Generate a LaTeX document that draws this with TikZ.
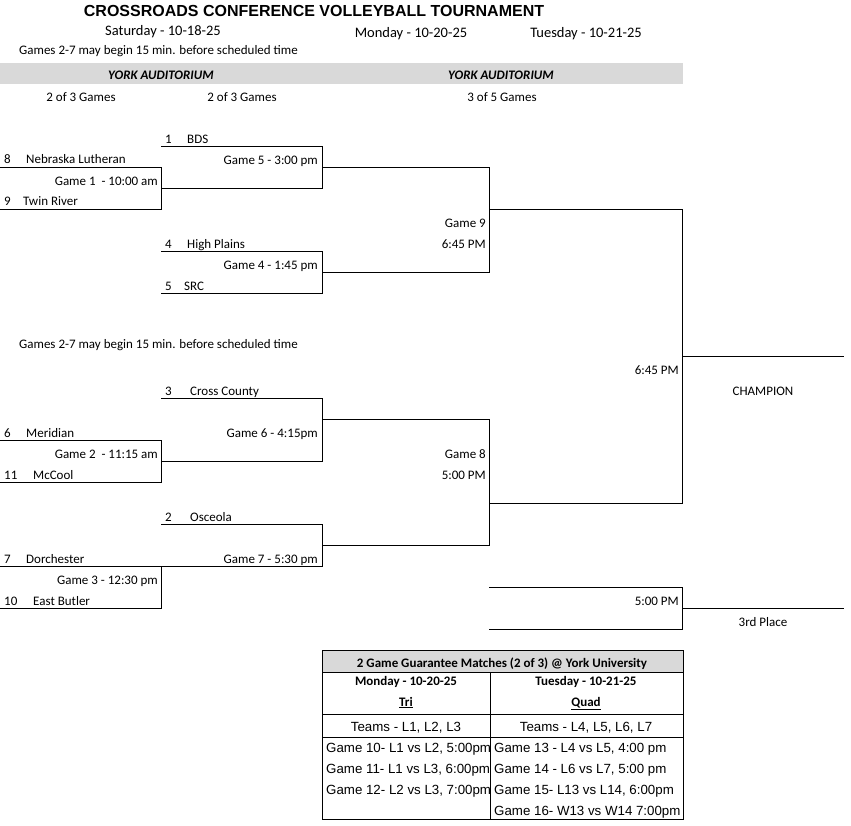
\documentclass[tikz,border=0pt]{standalone}
\usepackage{fontspec}
\setmainfont{Carlito}
\newfontfamily\arialf{Liberation Sans}
\begin{document}
\begin{tikzpicture}[x=1pt,y=-1pt,
  br/.style={line width=0.8pt},
  t/.style={inner sep=0pt,anchor=base west,font=\fontsize{13}{15}\selectfont},
  tr/.style={t,anchor=base east},
  tc/.style={t,anchor=base},
  hb/.style={tc,font=\bfseries\fontsize{13}{15}\selectfont},
  ta/.style={inner sep=0pt,anchor=base west,font=\arialf\fontsize{13.3}{15}\selectfont}]
\useasboundingbox[fill=white] (0,0) rectangle (851,825);
\fill[gray!30] (0,63) rectangle (683,84);
\node[inner sep=0pt,anchor=base,font=\arialf\bfseries\fontsize{16}{18}\selectfont] (title) at (314,16) {CROSSROADS CONFERENCE VOLLEYBALL TOURNAMENT};
\node[tc,font=\fontsize{14.5}{16}\selectfont] (d1) at (163,35) {Saturday - 10-18-25};
\node[tc,font=\fontsize{14.5}{16}\selectfont] (d2) at (411,37) {Monday - 10-20-25};
\node[tc,font=\fontsize{14.5}{16}\selectfont] (d3) at (586,37) {Tuesday - 10-21-25};
\node[t] (n1) at (19,54) {Games 2-7 may begin 15 min. before scheduled time};
\node[tc,font=\bfseries\itshape\fontsize{13}{15}\selectfont] (y1) at (161,79) {YORK AUDITORIUM};
\node[tc,font=\bfseries\itshape\fontsize{13}{15}\selectfont] (y2) at (501,79) {YORK AUDITORIUM};
\node[tc] (g1) at (81,101) {2 of 3 Games};
\node[tc] (g2) at (242,101) {2 of 3 Games};
\node[tc] (g3) at (502,101) {3 of 5 Games};
% brackets
\draw[br] (0,167) -- (161,167) -- (161,209) -- (0,209);
\draw[br] (161,146) -- (322,146) -- (322,188) -- (161,188);
\draw[br] (161,251) -- (322,251) -- (322,293) -- (161,293);
\draw[br] (322,167) -- (489,167) -- (489,272) -- (322,272);
\draw[br] (161,398) -- (322,398) -- (322,461) -- (161,461);
\draw[br] (0,440) -- (161,440) -- (161,482) -- (0,482);
\draw[br] (161,524) -- (322,524) -- (322,566) -- (161,566);
\draw[br] (0,566) -- (161,566) -- (161,608) -- (0,608);
\draw[br] (322,419) -- (489,419) -- (489,545) -- (322,545);
\draw[br] (489,209) -- (682,209) -- (682,503) -- (489,503);
\draw[br] (682,356) -- (844,356);
\draw[br] (489,587) -- (682,587) -- (682,629) -- (489,629);
\draw[br] (682,608) -- (844,608);
% teams
\node[t] (s1) at (165,143) {1}; \node[t] (s1n) at (187,143) {BDS};
\node[t] (s8) at (4,163) {8}; \node[t] (s8n) at (26,163) {Nebraska Lutheran};
\node[t] (s9) at (4,205) {9}; \node[t] (s9n) at (23,205) {Twin River};
\node[t] (s4) at (165,248) {4}; \node[t] (s4n) at (187,248) {High Plains};
\node[t] (s5) at (165,290) {5}; \node[t] (s5n) at (184,290) {SRC};
\node[t] (n2) at (19,348) {Games 2-7 may begin 15 min. before scheduled time};
\node[t] (s3) at (165,395) {3}; \node[t] (s3n) at (190,395) {Cross County};
\node[t] (s6) at (4,437) {6}; \node[t] (s6n) at (26,437) {Meridian};
\node[t] (s11) at (4,479) {11}; \node[t] (s11n) at (33,479) {McCool};
\node[t] (s2) at (165,521) {2}; \node[t] (s2n) at (190,521) {Osceola};
\node[t] (s7) at (4,563) {7}; \node[t] (s7n) at (26,563) {Dorchester};
\node[t] (s10) at (4,605) {10}; \node[t] (s10n) at (33,605) {East Butler};
% game labels
\node[tr] (G1) at (158,185) {Game 1\ \ - 10:00 am};
\node[tr] (G5) at (318,164) {Game 5 - 3:00 pm};
\node[tr] (G4) at (318,269) {Game 4 - 1:45 pm};
\node[tr] (G9a) at (486,227) {Game 9};
\node[tr] (G9b) at (486,248) {6:45 PM};
\node[tr] (G6) at (318,437) {Game 6 - 4:15pm};
\node[tr] (G2) at (158,458) {Game 2\ \ - 11:15 am};
\node[tr] (G8a) at (486,458) {Game 8};
\node[tr] (G8b) at (486,479) {5:00 PM};
\node[tr] (G7) at (318,563) {Game 7 - 5:30 pm};
\node[tr] (G3) at (158,584) {Game 3 - 12:30 pm};
\node[tr] (F) at (679,374) {6:45 PM};
\node[tc] (ch) at (763,395) {CHAMPION};
\node[tr] (T3) at (679,605) {5:00 PM};
\node[tc] (th) at (763,626) {3rd Place};
% table
\fill[gray!30] (322,650) rectangle (683,672);
\draw[line width=0.8pt] (322,650) rectangle (683,819);
\draw[line width=0.8pt] (322,672) -- (683,672);
\draw[line width=0.8pt] (490,672) -- (490,819);
\draw[line width=0.8pt] (322,714) -- (683,714);
\draw[line width=0.8pt] (322,737) -- (683,737);
\node[hb] (th1) at (502,667) {2 Game Guarantee Matches (2 of 3) @ York University};
\node[hb] (m1) at (406,685) {Monday - 10-20-25};
\node[hb] (m2) at (586,685) {Tuesday - 10-21-25};
\node[hb] (m3) at (406,706) {\underline{Tri}};
\node[hb] (m4) at (586,706) {\underline{Quad}};
\node[ta,anchor=base] (tm1) at (406,731) {Teams - L1, L2, L3};
\node[ta,anchor=base] (tm2) at (586,731) {Teams - L4, L5, L6, L7};
\node[ta] (a1) at (326,752) {Game 10- L1 vs L2, 5:00pm};
\node[ta] (a2) at (326,773) {Game 11- L1 vs L3, 6:00pm};
\node[ta] (a3) at (326,794) {Game 12- L2 vs L3, 7:00pm};
\node[ta] (b1) at (494,752) {Game 13 - L4 vs L5, 4:00 pm};
\node[ta] (b2) at (494,773) {Game 14 - L6 vs L7, 5:00 pm};
\node[ta] (b3) at (494,794) {Game 15- L13 vs L14, 6:00pm};
\node[ta] (b4) at (494,815) {Game 16- W13 vs W14 7:00pm};
\end{tikzpicture}
\end{document}
